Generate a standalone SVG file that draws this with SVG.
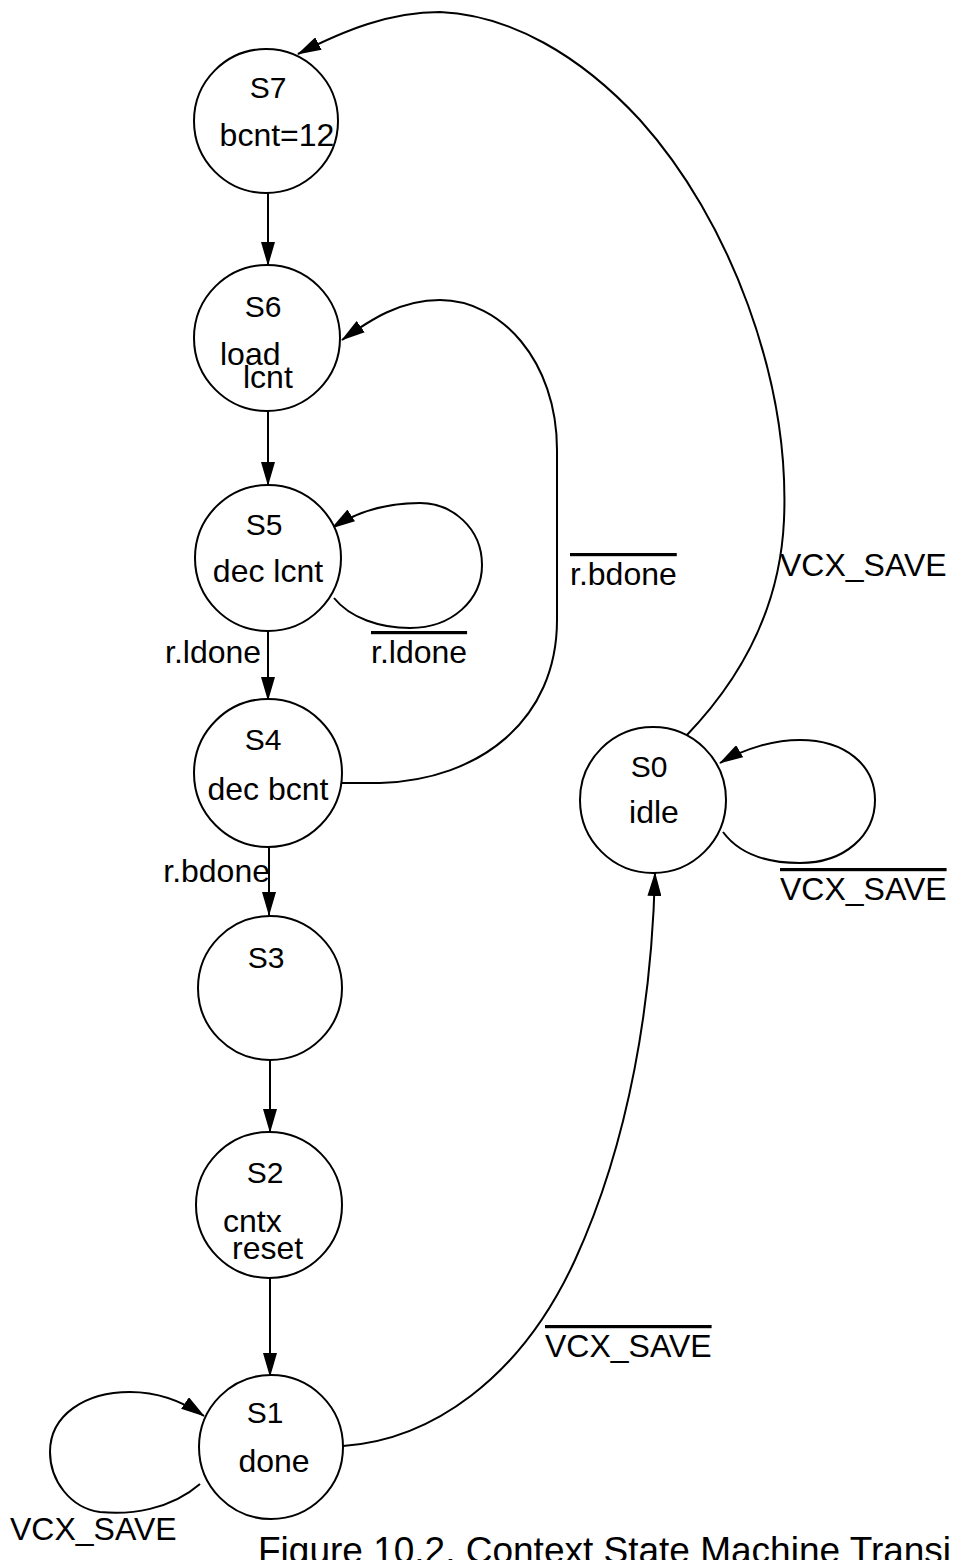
<svg xmlns="http://www.w3.org/2000/svg" width="957" height="1560" viewBox="0 0 957 1560">
<style>
text{font-family:"Liberation Sans",Arial,sans-serif;font-size:32px;fill:#000}
.st{font-size:30px}
.cap{font-size:37px}
.ov{text-decoration:overline}
circle{fill:#fff;stroke:#000;stroke-width:2}
.c{fill:none;stroke:#000;stroke-width:2;marker-end:url(#ah)}
</style>
<defs>
<marker id="ah" viewBox="0 0 24 14" refX="23" refY="7" markerWidth="24" markerHeight="14" markerUnits="userSpaceOnUse" orient="auto">
<path d="M0,0 L24,7 L0,14 z" fill="#000"/>
</marker>
</defs>
<rect width="957" height="1560" fill="#fff"/>
<g id="connectors">
<path class="c" d="M268,193 L268,265"/>
<path class="c" d="M268,410 L268,485"/>
<path class="c" d="M268,631 L268,700"/>
<path class="c" d="M269,847 L269,915"/>
<path class="c" d="M270,1060 L270,1132"/>
<path class="c" d="M270,1278 L270,1376"/>
<path class="c" d="M334,598 C350,618 380,628 410,628 C452,628 482,600 482,565 C482,528 452,503 420,503 C385,503 355,513 332,528"/>
<path class="c" d="M342,783 L380,783 C480,780 557,720 557,620 L557,450 C557,360 500,300 440,300 C400,300 370,320 342,340"/>
<path class="c" d="M686,736 C740,680 780,610 784,520 C790,380 730,220 640,120 C580,55 510,15 440,12 C390,12 345,30 298,54"/>
<path class="c" d="M723,832 C740,855 770,863 800,863 C845,863 875,835 875,800 C875,765 845,740 800,740 C775,740 745,748 720,763"/>
<path class="c" d="M200,1484 C170,1510 130,1515 100,1512 C70,1508 50,1480 50,1452 C50,1415 85,1392 130,1392 C160,1392 185,1403 204,1416"/>
<path class="c" d="M343,1446 C430,1440 520,1380 575,1260 C630,1140 652,1000 655,873"/>
<text x="165" y="663">r.ldone</text>
<text x="371" y="663" class="ov">r.ldone</text>
<text x="270" y="882" text-anchor="end">r.bdone</text>
<text x="570" y="585" class="ov">r.bdone</text>
<text x="780" y="576">VCX_SAVE</text>
<text x="780" y="900" class="ov">VCX_SAVE</text>
<text x="545" y="1357" class="ov">VCX_SAVE</text>
<text x="10" y="1540">VCX_SAVE</text>
</g>
<g id="S7"><circle cx="266" cy="121" r="72"/><text class="st" x="268" y="98" text-anchor="middle">S7</text><text x="277" y="146" text-anchor="middle">bcnt=12</text></g>
<g id="S6"><circle cx="267" cy="338" r="73"/><text class="st" x="263" y="317" text-anchor="middle">S6</text><text x="220" y="365">load</text><text x="243" y="388">lcnt</text></g>
<g id="S5"><circle cx="268" cy="558" r="73"/><text class="st" x="264" y="535" text-anchor="middle">S5</text><text x="268" y="582" text-anchor="middle">dec lcnt</text></g>
<g id="S4"><circle cx="268" cy="773" r="74"/><text class="st" x="263" y="750" text-anchor="middle">S4</text><text x="268" y="800" text-anchor="middle">dec bcnt</text></g>
<g id="S3"><circle cx="270" cy="988" r="72"/><text class="st" x="266" y="968" text-anchor="middle">S3</text></g>
<g id="S2"><circle cx="269" cy="1205" r="73"/><text class="st" x="265" y="1183" text-anchor="middle">S2</text><text x="223" y="1232">cntx</text><text x="232" y="1259">reset</text></g>
<g id="S1"><circle cx="271" cy="1447" r="72"/><text class="st" x="265" y="1423" text-anchor="middle">S1</text><text x="274" y="1472" text-anchor="middle">done</text></g>
<g id="S0"><circle cx="653" cy="800" r="73"/><text class="st" x="649" y="777" text-anchor="middle">S0</text><text x="654" y="823" text-anchor="middle">idle</text></g>
<text class="cap" x="258" y="1563">Figure 10.2. Context State Machine Transi</text>
</svg>
